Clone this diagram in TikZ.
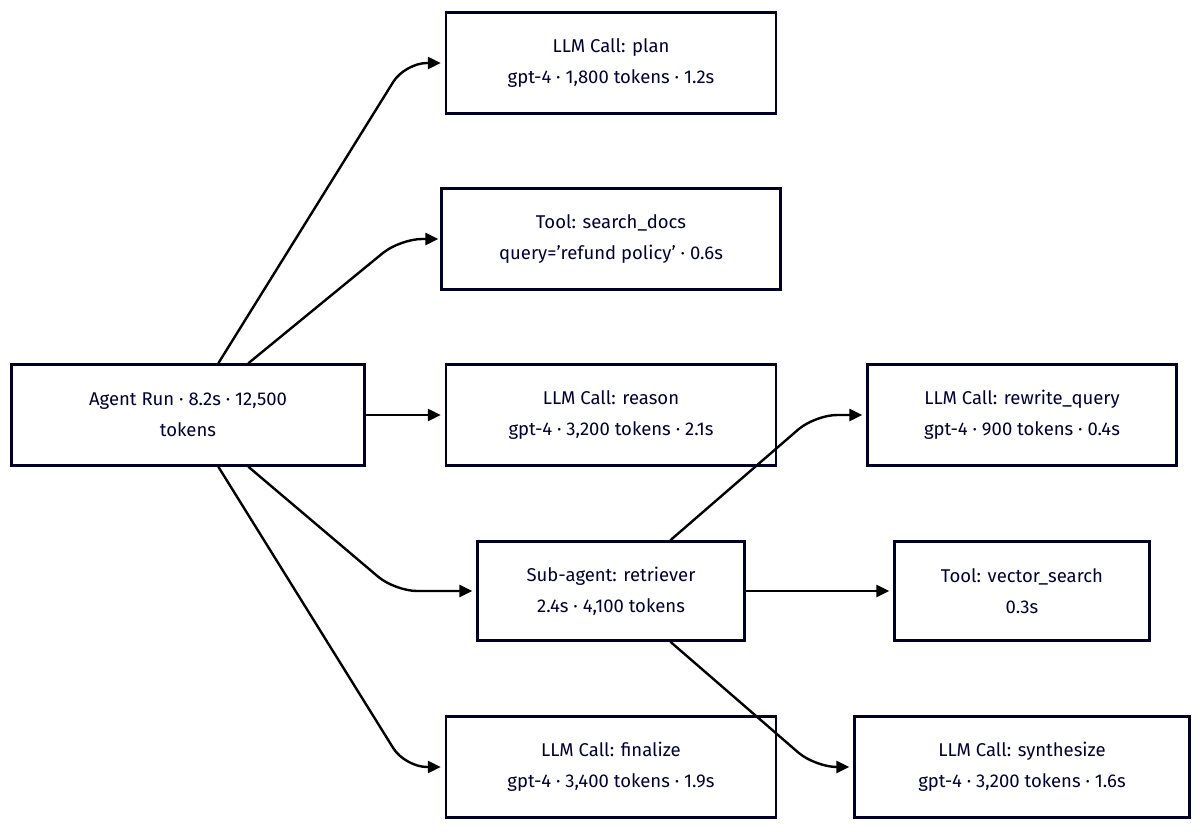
\documentclass[tikz,border=0pt]{standalone}
\usepackage{fontspec}
\setmainfont{Fira Sans}
\usetikzlibrary{arrows.meta}
\begin{document}
\begin{tikzpicture}[x=1pt,y=-1pt,
  box/.style={draw=black!85!blue,line width=2.4pt,fill=white,align=center,inner sep=0pt,font=\fontsize{18.5}{31}\selectfont,text=black!80!blue},
  conn/.style={line width=2.4pt,-{Triangle[length=13pt,width=12pt]},rounded corners=22pt}]
\useasboundingbox (0,0) rectangle (1200,832);
\node[box,minimum width=353pt,minimum height=101pt] (agent) at (188,415) {Agent Run · 8.2s · 12,500\\tokens};
\node[box,minimum width=330pt,minimum height=101pt] (plan) at (611,63) {LLM Call: plan\\gpt-4 · 1,800 tokens · 1.2s};
\node[box,minimum width=339pt,minimum height=101pt] (search) at (611,239) {Tool: search\_docs\\query='refund policy' · 0.6s};
\node[box,minimum width=330pt,minimum height=101pt] (reason) at (611,415) {LLM Call: reason\\gpt-4 · 3,200 tokens · 2.1s};
\node[box,minimum width=267pt,minimum height=99pt] (retr) at (611,591) {Sub-agent: retriever\\2.4s · 4,100 tokens};
\node[box,minimum width=330pt,minimum height=101pt] (final) at (611,767) {LLM Call: finalize\\gpt-4 · 3,400 tokens · 1.9s};
\node[box,minimum width=309pt,minimum height=101pt] (rewrite) at (1022,415) {LLM Call: rewrite\_query\\gpt-4 · 900 tokens · 0.4s};
\node[box,minimum width=255pt,minimum height=99pt] (vector) at (1022,591) {Tool: vector\_search\\0.3s};
\node[box,minimum width=335pt,minimum height=101pt] (synth) at (1022,767) {LLM Call: synthesize\\gpt-4 · 3,200 tokens · 1.6s};
\draw[conn] (agent.north west)++(208,0) -- (405,63) -- ([xshift=-4pt]plan.west);
\draw[conn] (agent.north west)++(238,0) -- (400,239) -- ([xshift=-2pt]search.west);
\draw[conn] (agent.east) -- ([xshift=-4pt]reason.west);
\draw[conn] (agent.south west)++(238,0) -- (395,591) -- ([xshift=-4pt]retr.west);
\draw[conn] (agent.south west)++(208,0) -- (405,767) -- ([xshift=-4pt]final.west);
\draw[conn] (retr.north west)++(194,0) -- (815,415) -- ([xshift=-4pt]rewrite.west);
\draw[conn] (retr.east) -- ([xshift=-4pt]vector.west);
\draw[conn] (retr.south west)++(194,0) -- (815,767) -- ([xshift=-4pt]synth.west);
\end{tikzpicture}
\end{document}
